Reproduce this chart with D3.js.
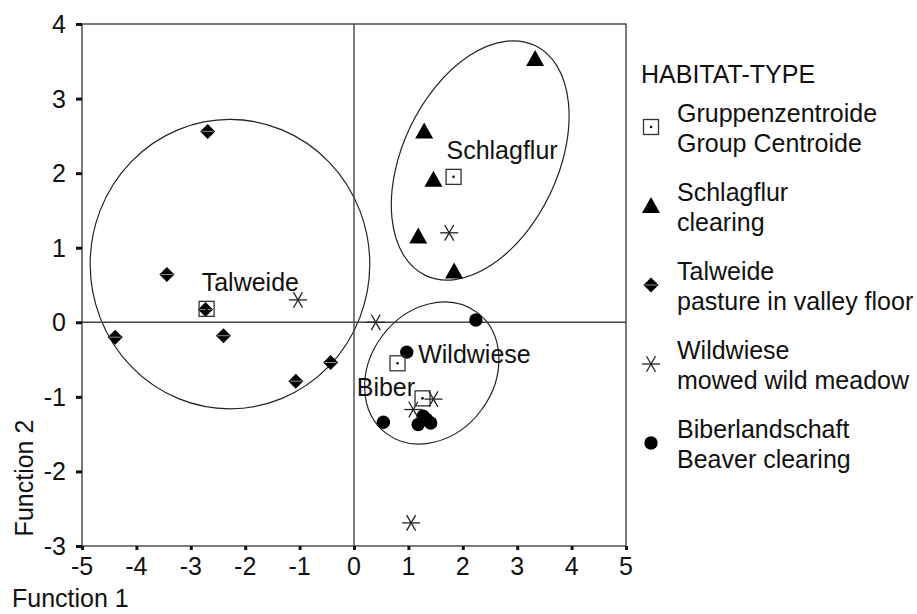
<!DOCTYPE html>
<html>
<head>
<meta charset="utf-8">
<script src="https://cdn.jsdelivr.net/npm/d3@7"></script>
<style>
    body { margin: 0; background: #fff; }
    svg text { font-family: Arial, "Liberation Sans", sans-serif; fill: #111; }
</style>
</head>
<body>
<div id="chart"></div>
<script>
// Discriminant scores (Function 1, Function 2)
var schlagflur = [[3.33, 3.53], [1.29, 2.56], [1.46, 1.91], [1.18, 1.15], [1.84, 0.68]];
var talweide = [[-2.69, 2.56], [-3.44, 0.64], [-2.73, 0.17], [-4.39, -0.20], [-2.40, -0.18], [-1.07, -0.79], [-0.43, -0.54]];
var wildwiese = [[1.75, 1.20], [-1.03, 0.30], [0.40, 0.00], [1.46, -1.03], [1.09, -1.17], [1.05, -2.69]];
var biber = [[2.24, 0.03], [0.97, -0.40], [0.54, -1.34], [1.18, -1.37], [1.27, -1.26], [1.41, -1.35], [1.33, -1.30]];

// group centroids
var centroids = [[1.83, 1.95], [-2.71, 0.18], [0.80, -0.55], [1.26, -1.02]];

// group names written in the plot and where their text starts
var groupLabels = ["Schlagflur", "Talweide", "Wildwiese", "Biber"];
var groupLabelPos = [[1.70, 2.19], [-2.80, 0.42], [1.18, -0.54], [0.05, -0.99]];

// ellipses: centre, half axes (x units, y units), tilt in degrees
var ellipseCenters = [[2.32, 2.17], [1.43, -0.68], [-2.28, 0.78]];
var ellipseRadii = [[2.34, 1.04], [1.39, 0.83], [2.57, 1.94]];
var ellipseTilt = [-64.5, -53.3, 0];

// axes
var xTicks = [-5, -4, -3, -2, -1, 0, 1, 2, 3, 4, 5];
var yTicks = [-3, -2, -1, 0, 1, 2, 3, 4];
var xTitle = "Function 1";
var yTitle = "Function 2";

// legend
var legendTitle = "HABITAT-TYPE";
var legendSymbols = ["centroid", "triangle", "diamond", "asterisk", "circle"];
var legendLine1 = ["Gruppenzentroide", "Schlagflur", "Talweide", "Wildwiese", "Biberlandschaft"];
var legendLine2 = ["Group Centroide", "clearing", "pasture in valley floor", "mowed wild meadow", "Beaver clearing"];

var svgWidth = 917;
var svgHeight = 614;
var fontSize = 25;

var svg = d3.select("#chart").append("svg")
    .attr("width", svgWidth)
    .attr("height", svgHeight);

var xScale = d3.scaleLinear().domain([-5, 5]).range([82, 626]);
var yScale = d3.scaleLinear().domain([-3, 4]).range([546, 24]);

// ellipses around the groups
ellipseCenters.forEach(function (c, i) {
    var rx = xScale(c[0] + ellipseRadii[i][0]) - xScale(c[0]);
    var ry = yScale(c[1] - ellipseRadii[i][1]) - yScale(c[1]);
    svg.append("ellipse")
        .attr("transform", `translate(${xScale(c[0])}, ${yScale(c[1])}) rotate(${ellipseTilt[i]})`)
        .attr("rx", rx)
        .attr("ry", ry)
        .attr("fill", "none")
        .attr("stroke", "#222")
        .attr("stroke-width", 1.2);
});

// frame and zero lines
svg.append("rect")
    .attr("x", xScale(-5))
    .attr("y", yScale(4))
    .attr("width", xScale(5) - xScale(-5))
    .attr("height", yScale(-3) - yScale(4))
    .attr("fill", "none")
    .attr("stroke", "#444")
    .attr("stroke-width", 1.4);

svg.append("line")
    .attr("x1", xScale(-5)).attr("x2", xScale(5))
    .attr("y1", yScale(0)).attr("y2", yScale(0))
    .attr("stroke", "#444").attr("stroke-width", 1.4);

svg.append("line")
    .attr("x1", xScale(0)).attr("x2", xScale(0))
    .attr("y1", yScale(4)).attr("y2", yScale(-3))
    .attr("stroke", "#444").attr("stroke-width", 1.4);

// tick marks
var yAxis = svg.append("g")
    .attr("transform", `translate(${xScale(-5)}, 0)`)
    .call(d3.axisLeft(yScale).tickValues(yTicks).tickSize(6).tickFormat(""));
var xAxis = svg.append("g")
    .attr("transform", `translate(0, ${yScale(-3)})`)
    .call(d3.axisBottom(xScale).tickValues(xTicks).tickSize(4).tickFormat(""));
[xAxis, yAxis].forEach(function (ax) {
    ax.select(".domain").remove();
    ax.selectAll(".tick line").attr("stroke", "#111").attr("stroke-width", 3);
});

// tick labels
svg.selectAll("text.ytick")
    .data(yTicks)
    .enter()
    .append("text")
    .classed("ytick", true)
    .attr("x", 66)
    .attr("y", d => yScale(d))
    .attr("dy", "0.36em")
    .attr("text-anchor", "end")
    .attr("font-size", fontSize)
    .text(d => d);

svg.selectAll("text.xtick")
    .data(xTicks)
    .enter()
    .append("text")
    .classed("xtick", true)
    .attr("x", d => xScale(d))
    .attr("y", 575)
    .attr("text-anchor", "middle")
    .attr("font-size", fontSize)
    .text(d => d);

// axis titles
svg.append("text")
    .attr("x", 12)
    .attr("y", 607)
    .attr("font-size", fontSize)
    .text(xTitle);

svg.append("text")
    .attr("transform", "translate(33, 478) rotate(-90)")
    .attr("text-anchor", "middle")
    .attr("font-size", fontSize)
    .text(yTitle);

// marker shapes
function drawMarker(g, type) {
    if (type === "triangle") {
        g.append("path").attr("d", "M0,-9L9,7L-9,7Z").attr("fill", "#000");
    } else if (type === "diamond") {
        g.append("path").attr("d", "M0,-7.5L7.5,0L0,7.5L-7.5,0Z").attr("fill", "#000");
        g.append("line").attr("x1", -6).attr("x2", 6)
            .attr("stroke", "#fff").attr("stroke-width", 0.8).attr("opacity", 0.7);
    } else if (type === "circle") {
        g.append("circle").attr("r", 6.7).attr("fill", "#000");
    } else if (type === "asterisk") {
        [0, 60, 120].forEach(function (a) {
            var r = 9, t = a * Math.PI / 180;
            g.append("line")
                .attr("x1", -r * Math.cos(t)).attr("y1", -r * Math.sin(t))
                .attr("x2", r * Math.cos(t)).attr("y2", r * Math.sin(t))
                .attr("stroke", "#222").attr("stroke-width", 1.3);
        });
    } else if (type === "centroid") {
        g.append("rect").attr("x", -7.5).attr("y", -7.5).attr("width", 15).attr("height", 15)
            .attr("fill", "none").attr("stroke", "#333").attr("stroke-width", 1.3);
        g.append("circle").attr("r", 1.3).attr("fill", "#000");
    }
}

function drawGroup(data, type) {
    svg.append("g").selectAll("g")
        .data(data)
        .enter()
        .append("g")
        .attr("transform", d => `translate(${xScale(d[0])}, ${yScale(d[1])})`)
        .each(function () { drawMarker(d3.select(this), type); });
}

drawGroup(schlagflur, "triangle");
drawGroup(talweide, "diamond");
drawGroup(biber, "circle");
drawGroup(wildwiese, "asterisk");
drawGroup(centroids, "centroid");

// group names in the plot
svg.selectAll("text.group-label")
    .data(groupLabels)
    .enter()
    .append("text")
    .classed("group-label", true)
    .attr("x", (d, i) => xScale(groupLabelPos[i][0]))
    .attr("y", (d, i) => yScale(groupLabelPos[i][1]))
    .attr("font-size", fontSize)
    .text(d => d);

// legend
svg.append("text")
    .attr("x", 641)
    .attr("y", 83)
    .attr("font-size", fontSize)
    .text(legendTitle);

var legend = svg.selectAll("g.legend-item")
    .data(legendSymbols)
    .enter()
    .append("g")
    .classed("legend-item", true)
    .attr("transform", (d, i) => `translate(0, ${122 + i * 79})`);

legend.each(function (d, i) {
    var g = d3.select(this);
    drawMarker(g.append("g").attr("transform", "translate(651, 5)"), d);
    g.append("text").attr("x", 677).attr("y", 0).attr("font-size", fontSize).text(legendLine1[i]);
    g.append("text").attr("x", 677).attr("y", 30).attr("font-size", fontSize).text(legendLine2[i]);
});
</script>
</body>
</html>
